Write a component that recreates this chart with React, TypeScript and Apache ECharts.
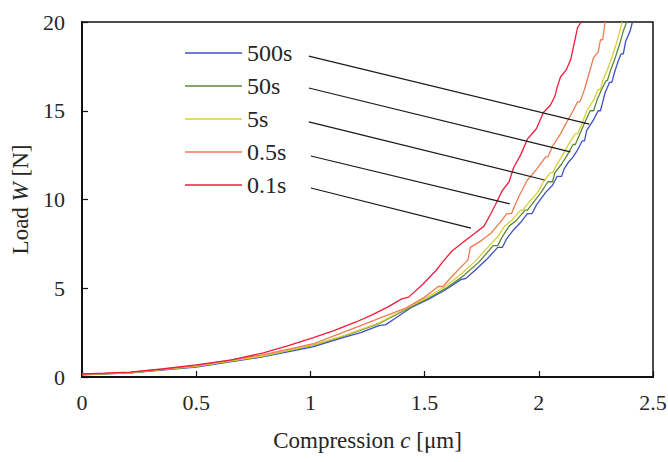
import React, { useEffect, useRef } from "react";
import * as echarts from "echarts";

const seriesNames = ["500s", "50s", "5s", "0.5s", "0.1s"];
const seriesColors = ["#3c4fc4", "#5a8a34", "#d6cf3c", "#f07a52", "#f01c3a"];

const blue500: number[][] = [
  [0, 0.12], [0.21, 0.23], [0.5, 0.56], [0.79, 1.13], [1.01, 1.7], [1.15, 2.25], [1.22, 2.5], [1.3, 2.9],
  [1.33, 2.95], [1.37, 3.3], [1.44, 3.9], [1.52, 4.4], [1.59, 4.9], [1.66, 5.5], [1.68, 5.55], [1.72, 6.0],
  [1.77, 6.6], [1.82, 7.3], [1.84, 7.3], [1.86, 7.8], [1.89, 8.3], [1.92, 8.7], [1.95, 9.2], [1.97, 9.2],
  [1.99, 9.7], [2.03, 10.4], [2.06, 10.8], [2.08, 11.3], [2.1, 11.3], [2.11, 11.7], [2.13, 12.1], [2.15, 12.4],
  [2.17, 12.8], [2.19, 13.3], [2.2, 13.3], [2.21, 13.9], [2.24, 14.5], [2.26, 15.0], [2.27, 15.0], [2.28, 15.5],
  [2.29, 16.0], [2.31, 16.6], [2.32, 16.6], [2.33, 17.1], [2.345, 17.7], [2.36, 18.2], [2.37, 18.2], [2.38, 18.9],
  [2.4, 19.5], [2.41, 20]
];
const green50: number[][] = [
  [0, 0.13], [0.21, 0.24], [0.5, 0.6], [0.79, 1.16], [1.01, 1.78], [1.15, 2.32], [1.3, 3.0], [1.44, 3.95],
  [1.52, 4.45], [1.6, 5.05], [1.67, 5.7], [1.74, 6.5], [1.8, 7.4], [1.82, 7.4], [1.84, 7.9], [1.87, 8.5],
  [1.9, 8.8], [1.94, 9.4], [1.95, 9.4], [1.98, 9.9], [2.01, 10.4], [2.04, 11.0], [2.06, 11.0], [2.07, 11.5],
  [2.1, 12.0], [2.12, 12.4], [2.15, 13.1], [2.16, 13.1], [2.18, 13.7], [2.2, 14.3], [2.225, 15.0], [2.24, 15.0],
  [2.255, 15.6], [2.275, 16.2], [2.295, 16.7], [2.3, 16.7], [2.315, 17.3], [2.335, 18.0], [2.355, 18.8],
  [2.37, 19.5], [2.385, 20]
];
const yellow5: number[][] = [
  [0, 0.13], [0.21, 0.25], [0.5, 0.6], [0.79, 1.18], [1.01, 1.8], [1.15, 2.35], [1.3, 3.05], [1.44, 4.0],
  [1.5, 4.4], [1.59, 5.1], [1.66, 5.8], [1.72, 6.5], [1.79, 7.5], [1.82, 7.9], [1.85, 8.5], [1.88, 8.8],
  [1.92, 9.4], [1.93, 9.4], [1.96, 9.9], [1.995, 10.4], [2.02, 11.0], [2.05, 11.5], [2.06, 11.5], [2.08, 12.0],
  [2.1, 12.4], [2.13, 13.1], [2.16, 13.7], [2.17, 13.7], [2.19, 14.3], [2.21, 15.0], [2.24, 15.6], [2.26, 16.2],
  [2.27, 16.2], [2.28, 16.7], [2.3, 17.3], [2.32, 18.0], [2.34, 18.8], [2.355, 19.5], [2.365, 20]
];
const orange05: number[][] = [
  [0, 0.15], [0.21, 0.26], [0.5, 0.64], [0.79, 1.25], [1.01, 1.86], [1.1, 2.3], [1.22, 2.9], [1.32, 3.4],
  [1.42, 3.9], [1.5, 4.5], [1.56, 5.1], [1.58, 5.1], [1.63, 5.8], [1.69, 6.6], [1.7, 7.3], [1.75, 7.7],
  [1.79, 8.1], [1.83, 8.7], [1.86, 9.2], [1.88, 9.2], [1.91, 10.1], [1.95, 11.1], [1.99, 11.7], [2.03, 12.4],
  [2.04, 12.4], [2.06, 13.0], [2.095, 13.7], [2.12, 14.3], [2.15, 15.0], [2.17, 15.5], [2.18, 15.5], [2.2, 16.2],
  [2.22, 17.1], [2.24, 18.0], [2.26, 18.3], [2.27, 19.0], [2.28, 19.0], [2.29, 20]
];
const red01: number[][] = [
  [0, 0.17], [0.1, 0.22], [0.21, 0.28], [0.35, 0.45], [0.5, 0.68], [0.65, 0.95], [0.79, 1.35], [0.9, 1.75],
  [1.01, 2.2], [1.1, 2.6], [1.2, 3.1], [1.27, 3.5], [1.34, 3.95], [1.4, 4.4], [1.43, 4.5], [1.49, 5.2],
  [1.55, 6.0], [1.58, 6.5], [1.62, 7.1], [1.67, 7.6], [1.72, 8.1], [1.76, 8.5], [1.79, 9.2], [1.81, 9.7],
  [1.84, 10.5], [1.87, 11.0], [1.89, 11.8], [1.92, 12.5], [1.95, 13.4], [1.99, 14.0], [2.02, 14.9],
  [2.05, 15.3], [2.07, 15.8], [2.08, 16.3], [2.095, 16.9], [2.12, 17.3], [2.14, 17.9], [2.155, 18.8],
  [2.17, 19.7], [2.186, 20]
];
const curves = [blue500, green50, yellow5, orange05, red01];

// leader lines from each label to its curve (data coordinates)
const leaders: number[][][] = [
  [[0.993, 18.08], [2.221, 14.25]],
  [[0.993, 16.28], [2.138, 12.68]],
  [[0.993, 14.37], [2.025, 11.1]],
  [[1.002, 12.45], [1.873, 9.75]],
  [[1.002, 10.65], [1.703, 8.39]]
];

const xTicks = { min: 0, max: 2.5, interval: 0.5 };
const yTicks = { min: 0, max: 20, interval: 5 };

const FONT = "'Liberation Serif', 'Times New Roman', 'DejaVu Serif', serif";
const INK = "#262626";

export default function App() {
  const ref = useRef<HTMLDivElement>(null);
  useEffect(() => {
    if (!ref.current) return;
    const chart = echarts.init(ref.current, undefined, { renderer: "svg" });
    const lineSeries = curves.map((d, i) => ({
      name: seriesNames[i],
      type: "line",
      data: d,
      showSymbol: false,
      symbol: "none",
      lineStyle: { color: seriesColors[i], width: 1.3 },
      itemStyle: { color: seriesColors[i] },
      z: 3
    }));
    const leaderSeries = leaders.map((d) => ({
      type: "line",
      data: d,
      symbol: "none",
      silent: true,
      lineStyle: { color: "#1a1a1a", width: 1.2 },
      z: 4
    }));
    const rich = {
      a: { fontFamily: FONT, fontSize: 23, color: INK },
      i: { fontFamily: FONT, fontSize: 23, color: INK, fontStyle: "italic" }
    };
    chart.setOption({
      animation: false,
      backgroundColor: "#fff",
      textStyle: { fontFamily: FONT },
      grid: {
        left: 82,
        right: 15,
        top: 22,
        bottom: 85,
        show: true,
        borderColor: "#111",
        borderWidth: 1.5,
        outerBoundsMode: "none",
        containLabel: false
      },
      legend: {
        data: seriesNames,
        orient: "vertical",
        left: 185,
        top: 41,
        padding: 0,
        itemWidth: 57,
        itemHeight: 1.5,
        itemGap: 9,
        icon: "rect",
        textStyle: { fontFamily: FONT, fontSize: 24, color: INK, lineHeight: 24 },
        selectedMode: false
      },
      xAxis: {
        type: "value",
        ...xTicks,
        name: "{a|Compression }{i|c}{a| [μm]}",
        nameLocation: "middle",
        nameGap: 52,
        nameTextStyle: { rich },
        axisLine: { show: true, lineStyle: { color: "#111", width: 2 } },
        axisTick: { show: true, inside: true, length: 6, lineStyle: { color: "#111", width: 1.2 } },
        axisLabel: { fontFamily: FONT, fontSize: 22, color: INK, margin: 14 },
        splitLine: { show: false }
      },
      yAxis: {
        type: "value",
        ...yTicks,
        name: "{a|Load }{i|W}{a| [N]}",
        nameLocation: "middle",
        nameGap: 46,
        nameTextStyle: { rich },
        axisLine: { show: true, lineStyle: { color: "#111", width: 2 } },
        axisTick: { show: true, inside: true, length: 6, lineStyle: { color: "#111", width: 1.2 } },
        axisLabel: { fontFamily: FONT, fontSize: 22, color: INK, margin: 17 },
        splitLine: { show: false }
      },
      series: [...lineSeries, ...leaderSeries]
    });
    return () => chart.dispose();
  }, []);
  return (
    <div
      ref={ref}
      style={{ position: "fixed", left: 0, top: 0, width: 668, height: 462, background: "#fff" }}
    />
  );
}
